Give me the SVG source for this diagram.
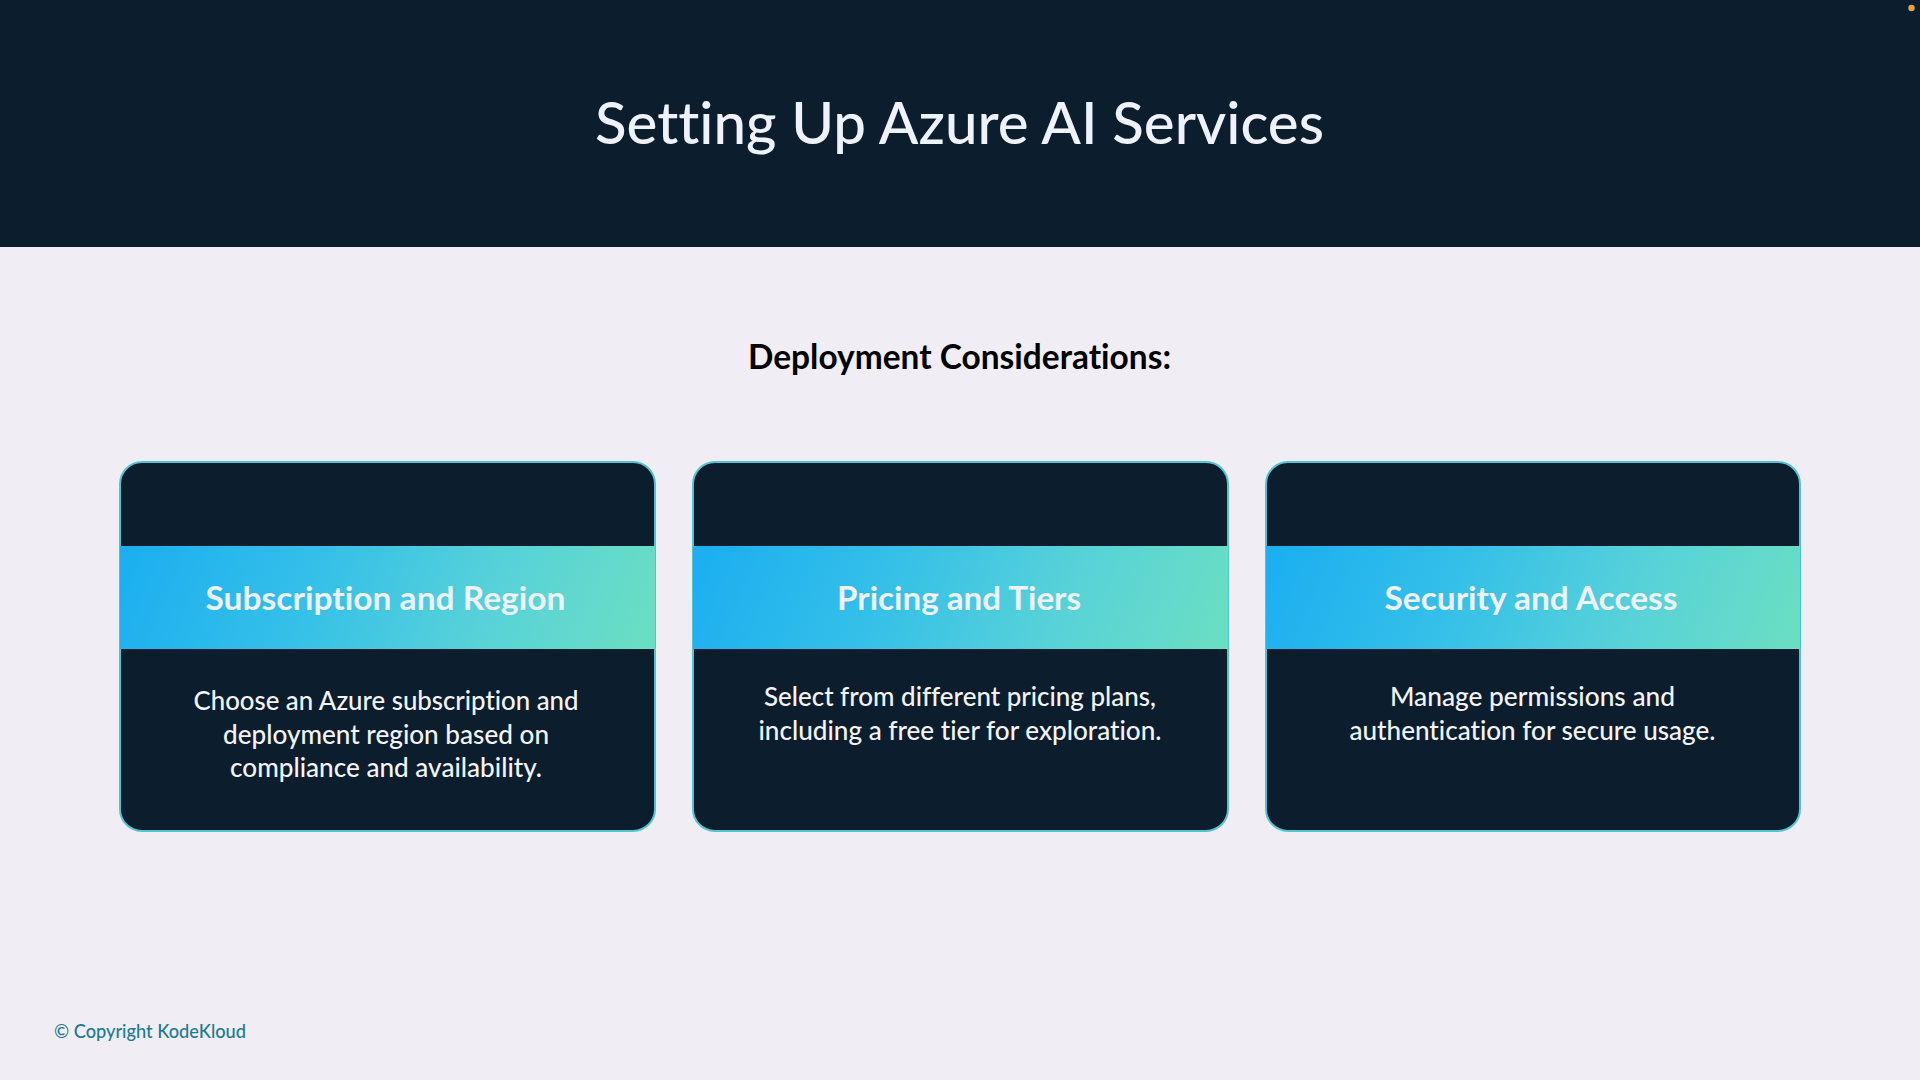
<svg xmlns="http://www.w3.org/2000/svg" width="1920" height="1080" viewBox="0 0 1920 1080">
<style>
text{font-family:Lato,"Liberation Sans",sans-serif;text-anchor:middle;font-variant-ligatures:none}
.card{fill:#0c1d2e;stroke:#52c4cf;stroke-width:2}
.head{font-size:33px;font-weight:700;fill:#eef2fa}
.body{font-size:26.5px;font-weight:500;fill:#f2f4f8}
</style>
<defs>
<linearGradient id="band" x1="0" y1="0.46" x2="1" y2="0.54">
<stop offset="0" stop-color="#1db0f0"/><stop offset="0.35" stop-color="#35c0e8"/><stop offset="0.7" stop-color="#58d2d8"/><stop offset="1" stop-color="#68dec4"/>
</linearGradient>
</defs>
<rect width="1920" height="1080" fill="#f0eef4"/>
<rect width="1920" height="247" fill="#0c1d2e"/>
<circle cx="1911.5" cy="8" r="3.2" fill="#e8a43a"/>
<text x="959.5" y="144" font-size="58" font-weight="500" fill="#eef2fa" textLength="729" lengthAdjust="spacingAndGlyphs">Setting Up Azure AI Services</text>
<text x="959.5" y="369" font-size="34" font-weight="700" fill="#000" textLength="423" lengthAdjust="spacingAndGlyphs">Deployment Considerations:</text>
<g id="card-subscription">
<rect class="card" x="120" y="462" width="535" height="369" rx="22"/>
<rect x="120" y="546" width="535" height="103" fill="url(#band)"/>
<text class="head" x="385.5" y="610" textLength="360" lengthAdjust="spacingAndGlyphs">Subscription and Region</text>
<text class="body" x="386" y="709.5" textLength="385" lengthAdjust="spacingAndGlyphs">Choose an Azure subscription and</text>
<text class="body" x="386" y="743.5" textLength="326" lengthAdjust="spacingAndGlyphs">deployment region based on</text>
<text class="body" x="386" y="776.5" textLength="312" lengthAdjust="spacingAndGlyphs">compliance and availability.</text>
</g>
<g id="card-pricing">
<rect class="card" x="693" y="462" width="535" height="369" rx="22"/>
<rect x="693" y="546" width="535" height="103" fill="url(#band)"/>
<text class="head" x="959" y="610" textLength="244" lengthAdjust="spacingAndGlyphs">Pricing and Tiers</text>
<text class="body" x="960" y="705.5" textLength="392" lengthAdjust="spacingAndGlyphs">Select from different pricing plans,</text>
<text class="body" x="960" y="739.5" textLength="403" lengthAdjust="spacingAndGlyphs">including a free tier for exploration.</text>
</g>
<g id="card-security">
<rect class="card" x="1266" y="462" width="534" height="369" rx="22"/>
<rect x="1266" y="546" width="534" height="103" fill="url(#band)"/>
<text class="head" x="1531" y="610" textLength="293" lengthAdjust="spacingAndGlyphs">Security and Access</text>
<text class="body" x="1532.5" y="705.5" textLength="285" lengthAdjust="spacingAndGlyphs">Manage permissions and</text>
<text class="body" x="1532.5" y="739.5" textLength="366" lengthAdjust="spacingAndGlyphs">authentication for secure usage.</text>
</g>
<g id="connectors"/>
<text x="54" y="1038" font-size="19" font-weight="500" fill="#1d7a90" style="text-anchor:start" textLength="192" lengthAdjust="spacingAndGlyphs">© Copyright KodeKloud</text>
</svg>
